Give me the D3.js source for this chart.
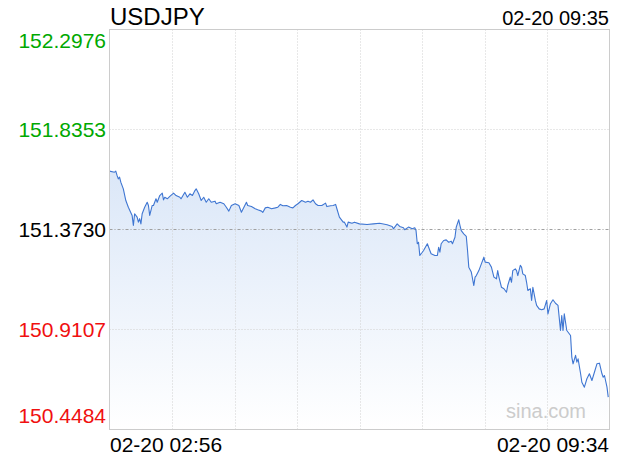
<!DOCTYPE html>
<html>
<head>
<meta charset="utf-8">
<script src="https://cdn.jsdelivr.net/npm/d3@7"></script>
<style>
  html, body { margin: 0; padding: 0; background: #fff; }
  svg { display: block; font-family: "Liberation Sans", Arial, sans-serif; }
</style>
</head>
<body>
<svg id="chart" width="620" height="460"></svg>
<script>
// ---- data ----
const symbol = "USDJPY";
const headerTime = "02-20 09:35";
const startLabel = "02-20 02:56";
const endLabel = "02-20 09:34";
const totalMinutes = 398; // 02:56 -> 09:34
const yTicks = [152.2976, 151.8353, 151.3730, 150.9107, 150.4484];
const prevClose = 151.3730;

// minutes after 02:56
const minutes = [
  0, 4, 5, 6, 7, 8, 9, 11, 13, 15, 18, 19, 20, 22, 23, 24, 25, 26, 28, 30,
  31, 32, 34, 35, 37, 38, 40, 42, 43, 44, 46, 48, 51, 53, 56, 57, 60, 62, 64, 66,
  68, 69, 71, 73, 75, 77, 79, 81, 84, 85, 88, 91, 93, 95, 97, 100, 103, 105, 107, 109,
  110, 113, 116, 118, 121, 122, 124, 126, 129, 132, 134, 136, 138, 141, 144, 146, 148, 150, 153, 156,
  158, 160, 162, 164, 166, 169, 172, 173, 176, 178, 180, 181, 183, 186, 187, 189, 190, 193, 195, 199,
  205, 210, 215, 221, 225, 226, 229, 231, 234, 235, 238, 241, 243, 244, 245, 246, 247, 249, 250, 253,
  255, 256, 259, 261, 262, 263, 264, 266, 268, 270, 272, 273, 275, 276, 278, 279, 280, 282, 284, 285,
  286, 288, 290, 291, 292, 294, 296, 298, 299, 302, 304, 306, 308, 309, 310, 312, 314, 316, 317, 319,
  320, 321, 323, 324, 325, 327, 328, 329, 331, 332, 333, 335, 336, 337, 339, 340, 342, 344, 346, 348,
  349, 351, 353, 355, 357, 359, 360, 361, 362, 364, 367, 368, 369, 371, 372, 373, 375, 376, 378, 380,
  382, 384, 386, 388, 390, 392, 393, 394, 396, 397
];
const prices = [
  151.643, 151.638, 151.643, 151.623, 151.607, 151.615, 151.592, 151.561, 151.507, 151.476,
  151.438, 151.392, 151.446, 151.430, 151.407, 151.423, 151.399, 151.446, 151.476, 151.499,
  151.484, 151.438, 151.484, 151.484, 151.515, 151.499, 151.530, 151.541, 151.510, 151.522,
  151.515, 151.526, 151.541, 151.530, 151.522, 151.515, 151.545, 151.522, 151.538, 151.530,
  151.553, 151.561, 151.538, 151.507, 151.522, 151.499, 151.515, 151.499, 151.504, 151.492,
  151.499, 151.492, 151.476, 151.458, 151.484, 151.492, 151.484, 151.453, 151.476, 151.499,
  151.484, 151.479, 151.469, 151.464, 151.458, 151.452, 151.473, 151.476, 151.469, 151.473,
  151.476, 151.489, 151.483, 151.484, 151.476, 151.473, 151.484, 151.492, 151.507, 151.499,
  151.504, 151.499, 151.510, 151.492, 151.484, 151.484, 151.495, 151.479, 151.483, 151.484,
  151.489, 151.469, 151.430, 151.407, 151.407, 151.384, 151.407, 151.402, 151.407, 151.399,
  151.396, 151.399, 151.402, 151.395, 151.387, 151.376, 151.399, 151.387, 151.381, 151.372,
  151.384, 151.376, 151.381, 151.368, 151.307, 151.314, 151.253, 151.268, 151.276, 151.307,
  151.276, 151.261, 151.253, 151.253, 151.291, 151.268, 151.307, 151.322, 151.325, 151.314,
  151.319, 151.307, 151.337, 151.384, 151.418, 151.391, 151.368, 151.353, 151.341, 151.276,
  151.199, 151.176, 151.114, 151.153, 151.160, 151.183, 151.214, 151.245, 151.222, 151.219,
  151.199, 151.153, 151.145, 151.183, 151.153, 151.106, 151.099, 151.083, 151.114, 151.153,
  151.129, 151.183, 151.191, 151.183, 151.160, 151.207, 151.199, 151.168, 151.160, 151.129,
  151.091, 151.099, 151.045, 151.106, 151.045, 151.022, 151.006, 151.002, 151.006, 151.045,
  150.983, 151.030, 151.048, 151.032, 151.022, 150.906, 150.975, 150.906, 150.983, 150.906,
  150.883, 150.783, 150.752, 150.791, 150.760, 150.775, 150.706, 150.667, 150.644, 150.683,
  150.706, 150.675, 150.713, 150.752, 150.755, 150.706, 150.690, 150.698, 150.644, 150.598
];
const tickColors = ["#00a800", "#00a800", "#000000", "#f01010", "#f01010"];

// ---- chart ----
const svg = d3.select("#chart");
const m = { left: 109.5, right: 609.5, top: 29.5, bottom: 429.5 };

const x = d3.scaleLinear().domain([0, totalMinutes]).range([m.left, m.right]);
const y = d3.scaleLinear().domain([yTicks[yTicks.length - 1], yTicks[0]]).range([m.bottom, m.top]);

const data = minutes.map((t, i) => ({ t, p: prices[i] }));

// gradient
const defs = svg.append("defs");
const grad = defs.append("linearGradient").attr("id", "fillGrad")
  .attr("x1", 0).attr("y1", 0).attr("x2", 0).attr("y2", 1);
grad.append("stop").attr("offset", "0%").attr("stop-color", "#dbe7f8");
grad.append("stop").attr("offset", "100%").attr("stop-color", "#ffffff");

// area
svg.append("path")
  .datum(data)
  .attr("fill", "url(#fillGrad)")
  .attr("d", d3.area().x(d => x(d.t)).y0(m.bottom).y1(d => y(d.p)));

// vertical grid
const vTicks = d3.range(1, 8).map(i => totalMinutes * i / 8);
svg.append("g").selectAll("line").data(vTicks).join("line")
  .attr("x1", d => Math.round(x(d)) + 0.5).attr("x2", d => Math.round(x(d)) + 0.5)
  .attr("y1", m.top).attr("y2", m.bottom)
  .attr("stroke", "#d0d0d0").attr("stroke-dasharray", "1,2");

// horizontal grid
svg.append("g").selectAll("line").data(yTicks.slice(1, -1)).join("line")
  .attr("x1", m.left).attr("x2", m.right)
  .attr("y1", d => Math.round(y(d)) - 0.5).attr("y2", d => Math.round(y(d)) - 0.5)
  .attr("stroke", d => d === prevClose ? "#a0a0a0" : "#d0d0d0")
  .attr("stroke-dasharray", d => d === prevClose ? "3,2,1,2" : "1,2");

// line
svg.append("path")
  .datum(data)
  .attr("fill", "none")
  .attr("stroke", "#3f76d2")
  .attr("stroke-width", 1.1)
  .attr("stroke-linejoin", "round")
  .attr("d", d3.line().x(d => x(d.t)).y(d => y(d.p)));

// border
svg.append("rect")
  .attr("x", m.left).attr("y", m.top)
  .attr("width", m.right - m.left).attr("height", m.bottom - m.top)
  .attr("fill", "none").attr("stroke", "#cccccc");

// y labels
svg.append("g").selectAll("text").data(yTicks).join("text")
  .attr("x", 106)
  .attr("y", (d, i) => y(d) + (i === 0 ? 18 : i === yTicks.length - 1 ? -7 : 7))
  .attr("text-anchor", "end")
  .attr("font-size", 21)
  .attr("fill", (d, i) => tickColors[i])
  .text(d => d.toFixed(4));

// header
svg.append("text").attr("x", 110).attr("y", 25)
  .attr("font-size", 24).attr("fill", "#000").text(symbol);
svg.append("text").attr("x", 609).attr("y", 25).attr("text-anchor", "end")
  .attr("font-size", 20).attr("fill", "#000").text(headerTime);

// x labels
svg.append("text").attr("x", 110).attr("y", 452)
  .attr("font-size", 21).attr("fill", "#000").text(startLabel);
svg.append("text").attr("x", 609).attr("y", 452).attr("text-anchor", "end")
  .attr("font-size", 21).attr("fill", "#000").text(endLabel);

// watermark
svg.append("text").attr("x", 546).attr("y", 418).attr("text-anchor", "middle")
  .attr("font-size", 20).attr("fill", "#cccccc").text("sina.com");
</script>
</body>
</html>
